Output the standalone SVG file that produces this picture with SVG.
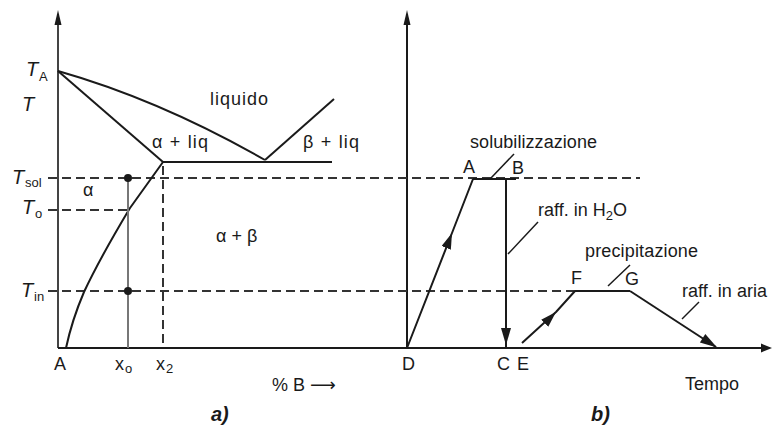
<svg xmlns="http://www.w3.org/2000/svg" width="774" height="428" viewBox="0 0 774 428">
<defs>
<style>
.ln{fill:none;stroke:#1a1a1a;stroke-width:2;stroke-linejoin:round}
.ax{fill:none;stroke:#444;stroke-width:2}
.gr{fill:none;stroke:#777;stroke-width:2}
.ds{fill:none;stroke:#333;stroke-width:2;stroke-dasharray:9,5}
.ld{fill:none;stroke:#1a1a1a;stroke-width:1.5}
.t{font-family:"Liberation Sans",Arial,sans-serif;font-size:18px;fill:#1a1a1a}
.ti{font-family:"Liberation Sans",Arial,sans-serif;font-size:20px;font-style:italic;fill:#1a1a1a}
.sb{font-family:"Liberation Sans",Arial,sans-serif;font-size:13px;fill:#1a1a1a}
.hd{fill:#1a1a1a}
</style>
<marker id="ah" markerUnits="userSpaceOnUse" markerWidth="16" markerHeight="10" refX="16" refY="5" orient="auto" viewBox="0 0 16 10">
<path d="M0,0 L16,5 L0,10 z" fill="#1a1a1a"/>
</marker>
</defs>
<rect width="774" height="428" fill="#fff"/>

<g id="axes">
<line class="ax" x1="58" y1="14" x2="58" y2="348"/>
<polygon class="hd" points="58,10 54.5,25 61.5,25"/>
<line class="ln" x1="407" y1="14" x2="407" y2="348"/>
<polygon class="hd" points="407,10 403.5,25 410.5,25"/>
<line class="ln" x1="58" y1="348" x2="764" y2="348"/>
<polygon class="hd" points="772,348 761,343.5 761,352.5"/>
</g>

<g id="dashed-lines">
<line class="ds" x1="48" y1="178" x2="640" y2="178"/>
<line class="ds" x1="48" y1="210" x2="130" y2="210"/>
<line class="ds" x1="48" y1="291" x2="575" y2="291"/>
<line class="ds" x1="163" y1="166" x2="163" y2="348"/>
</g>

<g id="phase-diagram">
<path class="ln" d="M58,71 Q160,100 265,160"/>
<path class="ln" d="M58,71 L163,162"/>
<path class="ln" d="M163,162 L332,162"/>
<path class="ln" d="M265,160 L334,99"/>
<path class="ln" d="M163,162 L130,208 Q100,258 84,292 Q72,320 66,348"/>
<line class="gr" x1="128" y1="178" x2="128" y2="348"/>
<circle class="hd" cx="128" cy="178" r="4"/>
<circle class="hd" cx="128" cy="291" r="4"/>
</g>

<g id="heat-treatment">
<path class="ln" d="M407,348 L452,233 L473,179" marker-mid="url(#ah)"/>
<line class="ln" x1="473" y1="179" x2="516" y2="179"/>
<line class="ln" x1="506" y1="179" x2="506" y2="348"/>
<polygon class="hd" points="506,345 501,328 511,328"/>
<path class="ln" d="M522,343 L556,312 L575,291" marker-mid="url(#ah)"/>
<line class="ln" x1="575" y1="291" x2="630" y2="291"/>
<line class="ln" x1="630" y1="291" x2="716" y2="347"/>
<polygon class="hd" points="717,347.5 699.9,342.4 705.3,334"/>
<line class="ld" x1="514" y1="154" x2="491" y2="178"/>
<line class="ld" x1="538" y1="222" x2="508" y2="254"/>
<line class="ld" x1="630" y1="265" x2="608" y2="286"/>
<line class="ld" x1="699" y1="302" x2="682" y2="319"/>
</g>

<g id="labels-a">
<text class="ti" x="26" y="76">T</text><text class="sb" x="39" y="81">A</text>
<text class="ti" x="22" y="111">T</text>
<text class="ti" x="12" y="184">T</text><text class="sb" x="25" y="187">sol</text>
<text class="ti" x="22" y="214">T</text><text class="sb" x="35" y="218">o</text>
<text class="ti" x="21" y="297">T</text><text class="sb" x="34" y="301">in</text>
<text class="t" x="210" y="105" textLength="58">liquido</text>
<text class="t" x="152" y="148" textLength="56">α + liq</text>
<text class="t" x="303" y="148" textLength="56">β + liq</text>
<text class="t" x="83" y="196">α</text>
<text class="t" x="216" y="242" font-size="19">α + β</text>
<text class="t" x="54" y="370">A</text>
<text class="t" x="115" y="370">x</text><text class="sb" x="125" y="373">o</text>
<text class="t" x="156" y="370">x</text><text class="sb" x="166" y="373">2</text>
<text class="t" x="272" y="391">% B <tspan font-family="DejaVu Sans, sans-serif">⟶</tspan></text>
<text class="ti" x="211" y="421" font-size="15" font-weight="bold">a)</text>
</g>

<g id="labels-b">
<text class="t" x="470" y="148" textLength="127">solubilizzazione</text>
<text class="t" x="463" y="173">A</text>
<text class="t" x="512" y="174">B</text>
<text class="t" x="538" y="216">raff. in H<tspan class="sb" dy="4">2</tspan><tspan dy="-4">O</tspan></text>
<text class="t" x="585" y="257" textLength="113">precipitazione</text>
<text class="t" x="571" y="284">F</text>
<text class="t" x="625" y="285">G</text>
<text class="t" x="682" y="297" textLength="85">raff. in aria</text>
<text class="t" x="402" y="370">D</text>
<text class="t" x="497" y="370">C</text>
<text class="t" x="517" y="370">E</text>
<text class="t" x="685" y="390" font-size="20">Tempo</text>
<text class="ti" x="591" y="421" font-size="15" font-weight="bold">b)</text>
</g>
</svg>
